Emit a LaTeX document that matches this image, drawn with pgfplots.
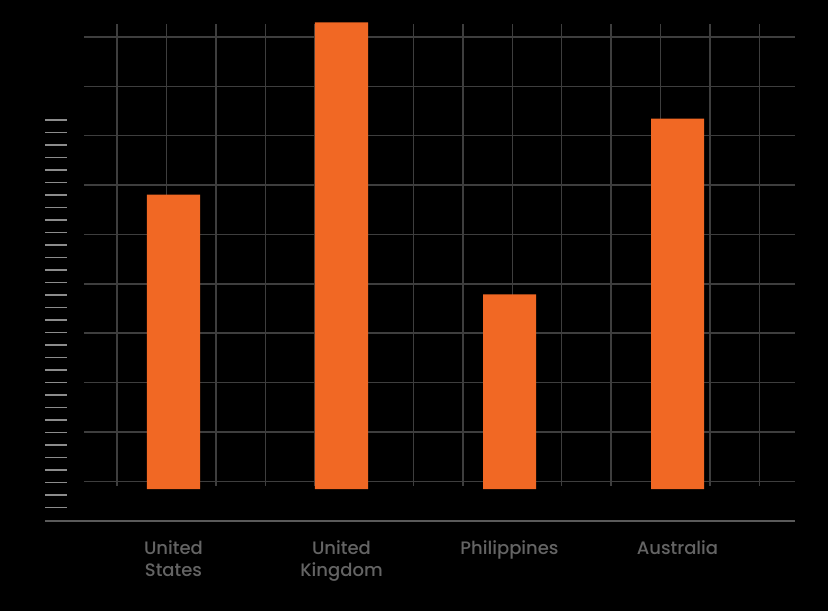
\documentclass[border=0pt]{standalone}
\usepackage{pgfplots}
\pgfplotsset{compat=1.18}
\usepackage{fontspec}
\setmainfont{Poppins}
\newfontfamily\labelfont{Poppins Medium}
\definecolor{barorange}{RGB}{241,104,36}
\definecolor{gridgray}{RGB}{62,62,62}
\definecolor{tickgray}{RGB}{140,140,140}
\definecolor{axisgray}{RGB}{90,90,90}
\definecolor{labelgray}{RGB}{100,100,100}
\begin{document}
\begin{tikzpicture}
\fill[black] (0,0) rectangle (828pt,611pt);
\begin{scope}[x=1pt,y=-1pt,shift={(0pt,611pt)}]
  \foreach \k in {0,...,9}{
    \draw[gridgray,line width=1.4pt] (84,{37+49.35*\k}) -- (795,{37+49.35*\k});
  }
  \foreach \k in {0,...,13}{
    \draw[gridgray,line width=1.4pt] ({117+49.4*\k},24) -- ({117+49.4*\k},486);
  }
  \foreach \k in {0,...,31}{
    \draw[tickgray,line width=1.4pt] (45,{120+12.5*\k}) -- (67,{120+12.5*\k});
  }
  \draw[axisgray,line width=1.6pt] (45,521) -- (795,521);
\end{scope}
\begin{axis}[
  width=828pt,height=611pt,scale only axis,
  xmin=-1.0327,xmax=3.8958,ymin=-24.70,ymax=98.99,
  axis line style={draw=none},
  xtick={0,1,2,3},
  xticklabels={{United\\States},{United\\Kingdom},{Philippines},{Australia}},
  ytick=\empty,
  major tick length=0pt,
  xticklabel style={align=center,font=\labelfont\fontsize{18}{22.5}\selectfont,text=labelgray,anchor=north,yshift=74pt},
  ybar,bar width=0.3155,
  clip=false,
]
\addplot[fill=barorange,draw=none] coordinates {(0,59.6) (1,94.5) (2,39.4) (3,75)};
\end{axis}
\end{tikzpicture}
\end{document}
